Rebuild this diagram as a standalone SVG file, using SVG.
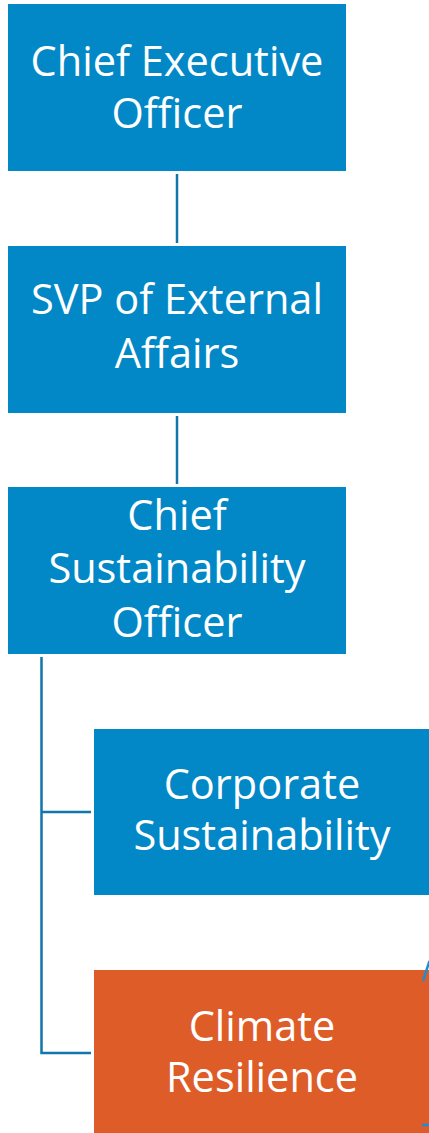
<svg xmlns="http://www.w3.org/2000/svg" width="429" height="1133" viewBox="0 0 429 1133">
<style>
.box{fill:#0288c6}
.orange{fill:#dd5c28}
.lbl{font-family:"Open Sans","Liberation Sans",sans-serif;font-size:41.5px;fill:#ffffff;text-anchor:middle}
.conn{stroke:#1176ac;stroke-width:2.5;fill:none}
.sel{stroke:#1a8fd2;stroke-width:2.5;fill:none}
</style>
<rect width="429" height="1133" fill="#ffffff"/>
<g id="connectors">
<line class="conn" x1="177" y1="174" x2="177" y2="243"/>
<line class="conn" x1="177" y1="416" x2="177" y2="484"/>
<polyline class="conn" points="41.5,657 41.5,1053 91,1053"/>
<line class="conn" x1="41.5" y1="812" x2="91" y2="812"/>
</g>
<g id="ceo">
<rect class="box" x="8" y="4" width="338" height="167"/>
<text class="lbl" x="177" y="76">Chief Executive</text>
<text class="lbl" x="177" y="128">Officer</text>
</g>
<g id="svp">
<rect class="box" x="8" y="246" width="338" height="167"/>
<text class="lbl" x="177" y="314">SVP of External</text>
<text class="lbl" x="177" y="368">Affairs</text>
</g>
<g id="cso">
<rect class="box" x="8" y="487" width="338" height="167"/>
<text class="lbl" x="177" y="530">Chief</text>
<text class="lbl" x="177" y="583">Sustainability</text>
<text class="lbl" x="177" y="637">Officer</text>
</g>
<g id="corporate">
<rect class="box" x="94" y="729" width="336" height="166"/>
<text class="lbl" x="262" y="799">Corporate</text>
<text class="lbl" x="262" y="850">Sustainability</text>
</g>
<g id="climate">
<rect class="orange" x="94" y="970" width="336" height="164"/>
<text class="lbl" x="262" y="1041">Climate</text>
<text class="lbl" x="262" y="1092">Resilience</text>
</g>
<g id="selection">
<line class="sel" x1="423" y1="981" x2="429.5" y2="961"/>
<line class="sel" x1="422" y1="1125" x2="429.5" y2="1125"/>
</g>
</svg>
